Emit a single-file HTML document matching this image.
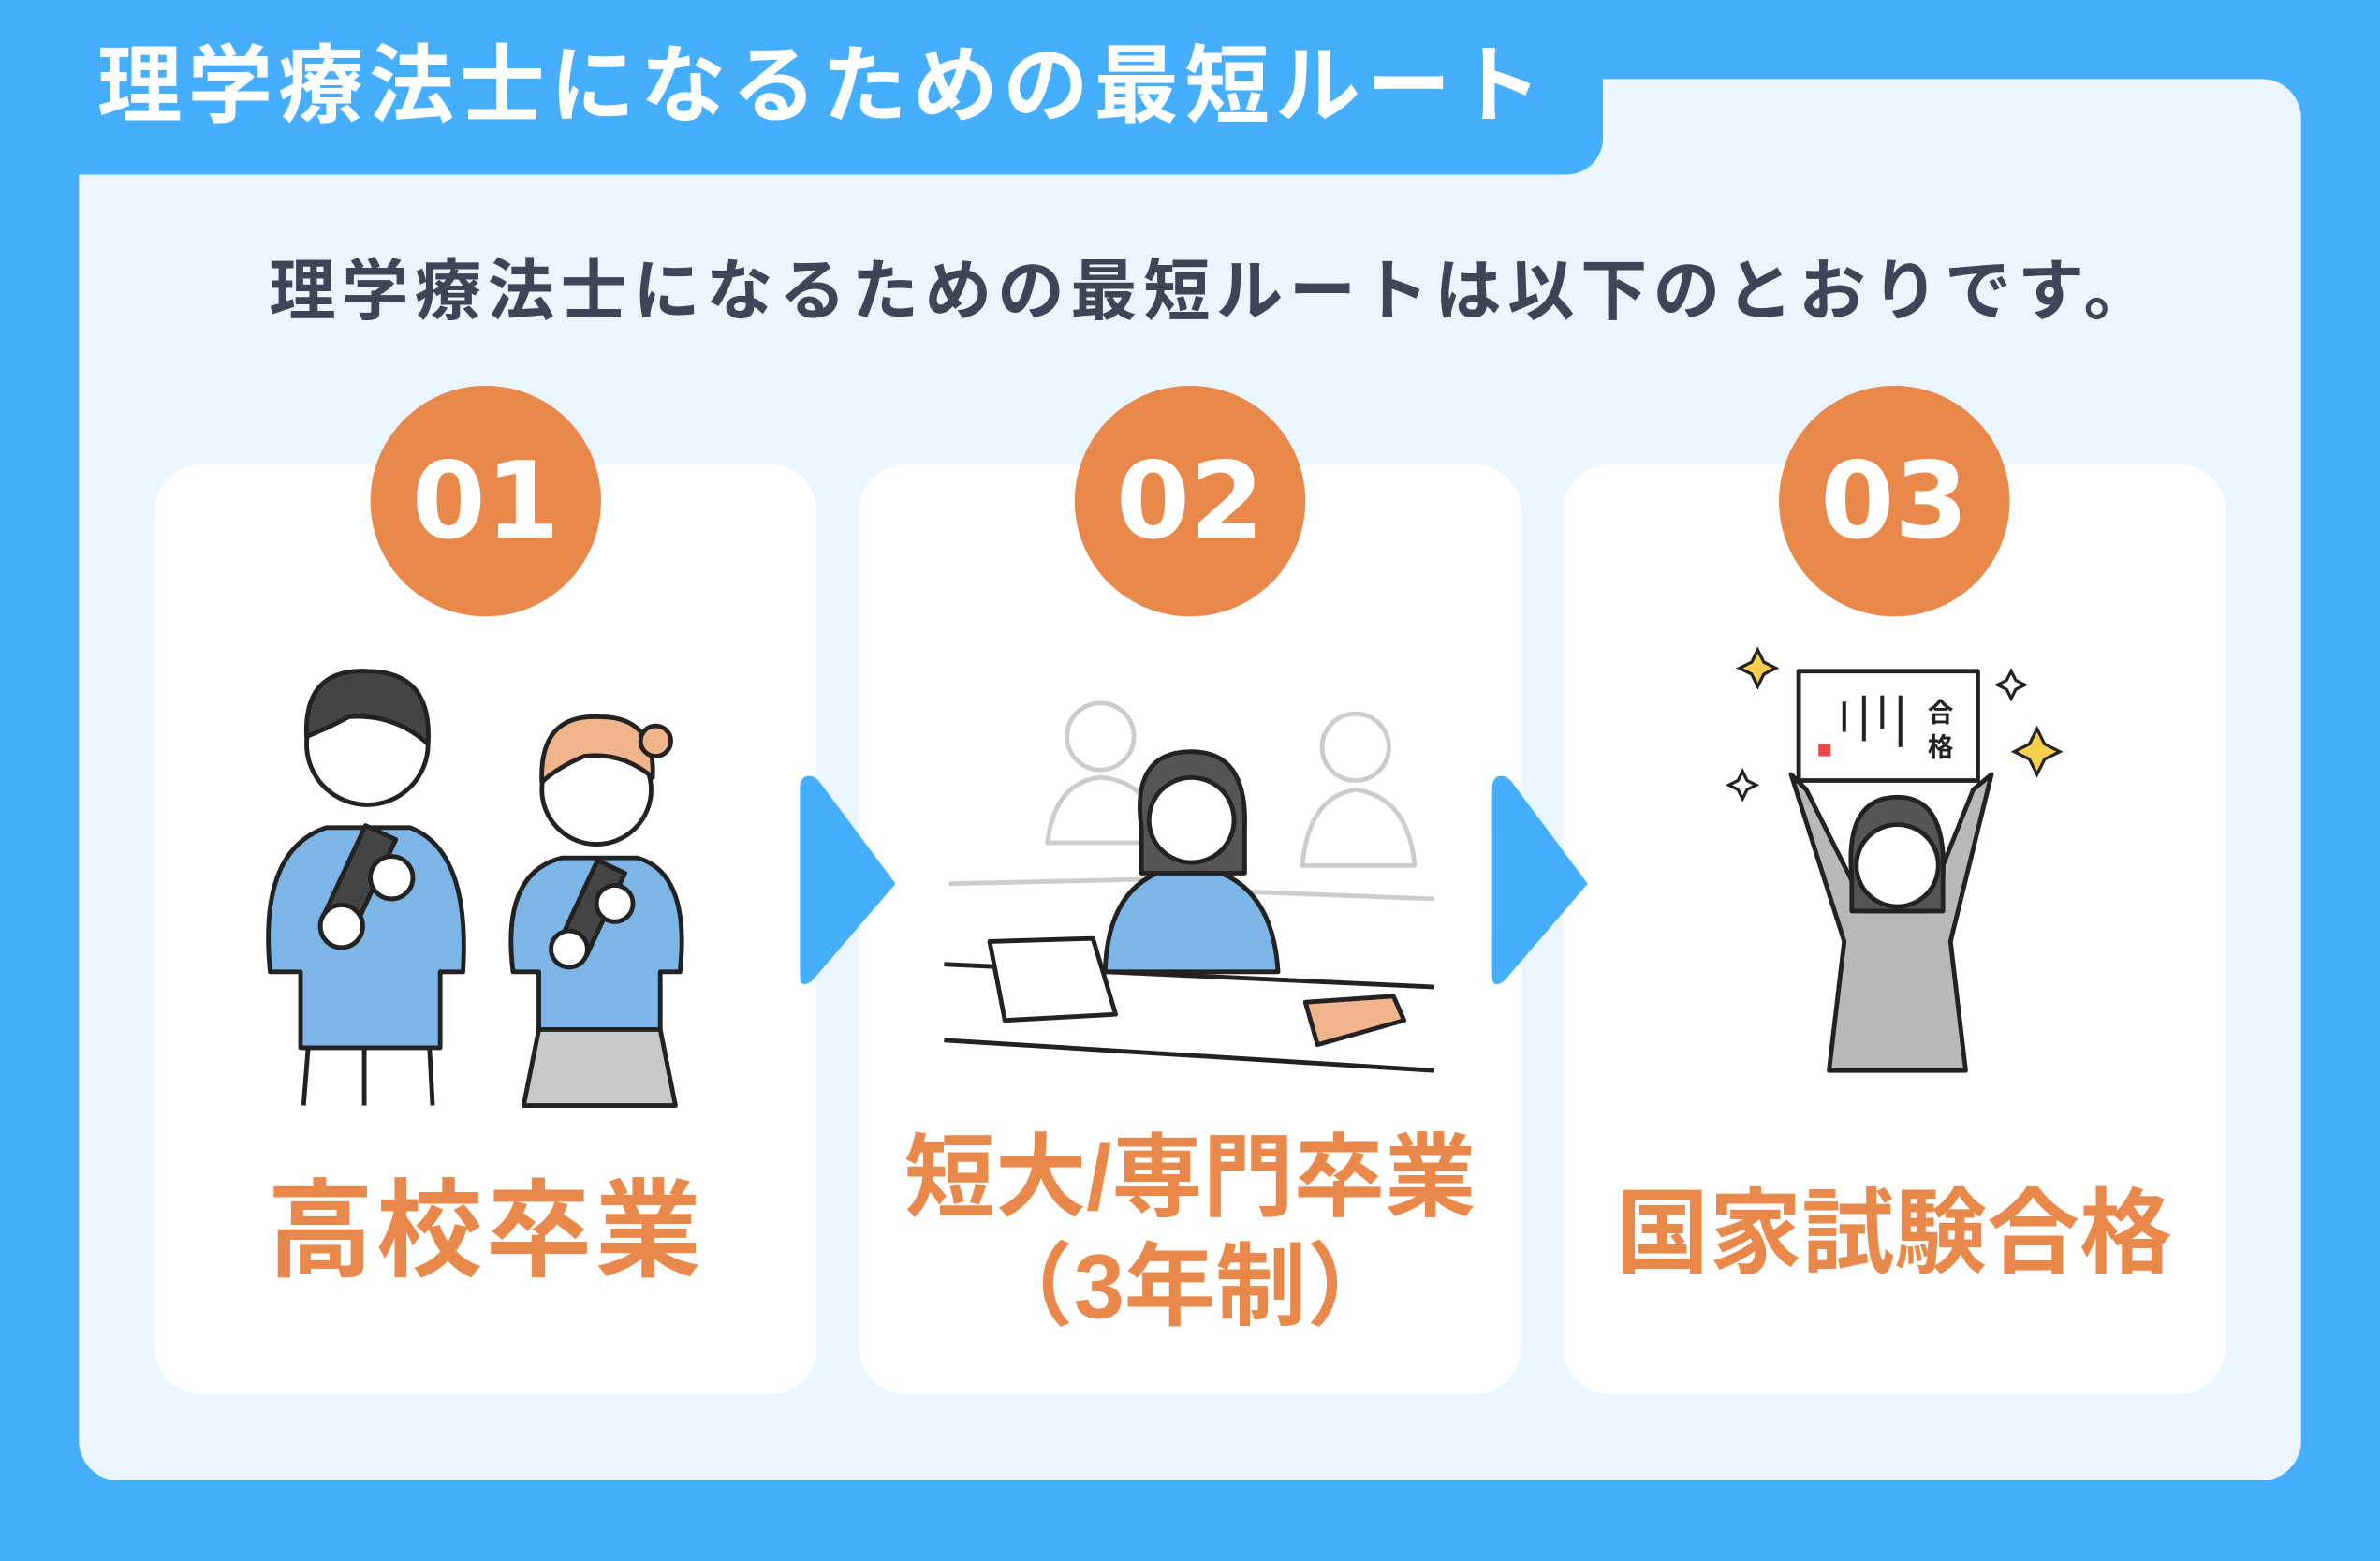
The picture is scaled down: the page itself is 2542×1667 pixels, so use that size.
<!DOCTYPE html>
<html><head><meta charset="utf-8">
<style>
html,body{margin:0;padding:0;width:2542px;height:1667px;overflow:hidden;background:#45aefe;}
#w{position:absolute;left:0;top:0;width:1568px;height:1028px;transform:scale(1.6212,1.6216);transform-origin:0 0;font-family:"Liberation Sans","Noto Sans CJK JP",sans-serif;font-weight:700;}
.panel{position:absolute;left:52px;top:52px;width:1464px;height:923px;background:#eaf5fe;border-radius:26px;}
.tab{position:absolute;left:0;top:0;width:1056px;height:115px;background:#45aefe;border-bottom-right-radius:24px;}
.title{position:absolute;left:64px;top:22px;color:#fff;font-size:56px;letter-spacing:3.7px;line-height:70px;white-space:nowrap;}
.sub{position:absolute;left:15px;width:1568px;top:164px;text-align:center;color:#3b4656;font-size:44px;letter-spacing:4px;line-height:58px;white-space:nowrap;}
.card{position:absolute;top:306px;width:436px;height:612px;background:#fff;border-radius:30px;}
.num{position:absolute;top:254px;width:152px;height:152px;border-radius:50%;background:#e8884a;color:#fff;font-size:70px;text-align:center;line-height:152px;font-family:"DejaVu Sans","Liberation Sans",sans-serif;}
.lab{position:absolute;color:#e8884a;text-align:center;white-space:nowrap;}
svg{position:absolute;}
</style></head><body><div id="w">
<div class="panel"></div>
<div class="tab"></div>
<div class="title">理学療法士になるための最短ルート</div>
<div class="sub">理学療法士になるための最短ルートは以下のとおりです。</div>

<div class="card" style="left:102px"></div>
<div class="card" style="left:566px"></div>
<div class="card" style="left:1030px"></div>
<div class="num" style="left:244px">01</div>
<div class="num" style="left:708px">02</div>
<div class="num" style="left:1172px">03</div>

<svg style="left:0;top:0" width="1568" height="1028">
<path d="M533 511 Q527 511 527 520 L527 642 Q527 652 535 646 L590 582 L540 515 Q537 511 533 511Z" fill="#45aefe"/>
<path d="M989 511 Q983 511 983 520 L983 642 Q983 652 991 646 L1046 582 L996 515 Q993 511 989 511Z" fill="#45aefe"/>
<g stroke="#222" stroke-width="3" stroke-linejoin="round">
<path d="M178 640 Q170 560 215 545 L270 545 Q310 560 305 640 L290 640 L290 690 L198 690 L198 640Z" fill="#7db6e6"/>
<line x1="203" y1="690" x2="200" y2="728"/><line x1="240" y1="690" x2="240" y2="728"/><line x1="283" y1="690" x2="285" y2="728"/>
<circle cx="242" cy="490" r="40" fill="#fff"/>
<path d="M202 485 Q200 440 242 442 Q285 442 282 490 Q260 470 230 472 Q215 480 202 485Z" fill="#444"/>
<rect x="225" y="545" width="22" height="70" transform="rotate(25 236 580)" fill="#444"/>
<circle cx="225" cy="610" r="14" fill="#fff"/><circle cx="258" cy="578" r="14" fill="#fff"/>
<path d="M338 640 Q330 575 370 565 L420 565 Q455 575 448 640 L435 640 L435 678 L355 678 L355 640Z" fill="#7db6e6"/>
<path d="M355 678 L345 728 L445 728 L435 678Z" fill="#c8c8c8"/>
<circle cx="393" cy="520" r="36" fill="#fff"/>
<path d="M357 515 Q355 470 395 472 Q432 472 430 512 Q410 495 385 498 Q368 505 357 515Z" fill="#f0b48d"/>
<circle cx="432" cy="488" r="10" fill="#f0b48d"/>
<rect x="380" y="568" width="20" height="60" transform="rotate(25 390 598)" fill="#444"/>
<circle cx="375" cy="625" r="12" fill="#fff"/><circle cx="405" cy="595" r="12" fill="#fff"/>
<g stroke="#ccc" fill="#fff"><circle cx="725" cy="485" r="22"/><path d="M690 555 Q695 515 725 512 Q760 515 765 555Z"/><circle cx="893" cy="492" r="22"/><path d="M858 570 Q862 525 893 520 Q928 525 932 570Z"/><line x1="625" y1="582" x2="800" y2="578"/><line x1="790" y1="586" x2="945" y2="592"/></g>
<path d="M728 640 Q730 575 783 570 Q838 575 842 640Z" fill="#7db6e6"/>
<path d="M752 545 Q745 495 785 495 Q822 495 820 545 L820 575 L752 575Z" fill="#555"/>
<circle cx="785" cy="540" r="28" fill="#fff"/>
<line x1="622" y1="635" x2="945" y2="650"/><line x1="622" y1="685" x2="945" y2="705"/>
<path d="M652 620 L720 618 L735 668 L662 672Z" fill="#fff"/>
<path d="M860 660 L918 656 L925 672 L868 688Z" fill="#f0b48d"/>
<rect x="1185" y="442" width="118" height="72" fill="#fff"/>
<rect x="1198" y="490" width="8" height="8" fill="#e84a4a" stroke="none"/>
<path d="M1190 520 L1180 510 L1215 620 L1205 705 L1295 705 L1285 620 L1312 510 L1300 520 L1268 600 L1230 600Z" fill="#b8b8b8"/>
<path d="M1220 578 Q1215 525 1250 525 Q1283 525 1280 578 L1280 600 L1220 600Z" fill="#555"/>
<circle cx="1250" cy="570" r="27" fill="#fff"/>
</g>
<g stroke="#222" stroke-width="2.5"><line x1="1215" y1="462" x2="1215" y2="482"/><line x1="1228" y1="458" x2="1228" y2="488"/><line x1="1240" y1="458" x2="1240" y2="480"/><line x1="1252" y1="458" x2="1252" y2="492"/></g>
<text x="1270" y="475" font-size="17" fill="#222">合</text><text x="1270" y="498" font-size="17" fill="#222">格</text>
<g fill="#f6d04d" stroke="#222" stroke-width="2"><path d="M1158 428 l4 8 8 4 -8 4 -4 8 -4 -8 -8 -4 8 -4Z"/><path d="M1342 480 l5 10 10 5 -10 5 -5 10 -5 -10 -10 -5 10 -5Z"/><path d="M1325 442 l3 6 6 3 -6 3 -3 6 -3 -6 -6 -3 6 -3Z" fill="#fff"/><path d="M1148 508 l3 6 6 3 -6 3 -3 6 -3 -6 -6 -3 6 -3Z" fill="#fff"/></g>
</svg>

<div class="lab" style="left:102px;width:436px;top:766px;font-size:70px;line-height:90px;letter-spacing:2px">高校卒業</div>
<div class="lab" style="left:566px;width:436px;top:740px;font-size:60px;line-height:72px">短大/専門卒業<br>（3年制）</div>
<div class="lab" style="left:1030px;width:436px;top:772px;font-size:61px;line-height:80px">国家試験合格</div>
</div></body></html>
